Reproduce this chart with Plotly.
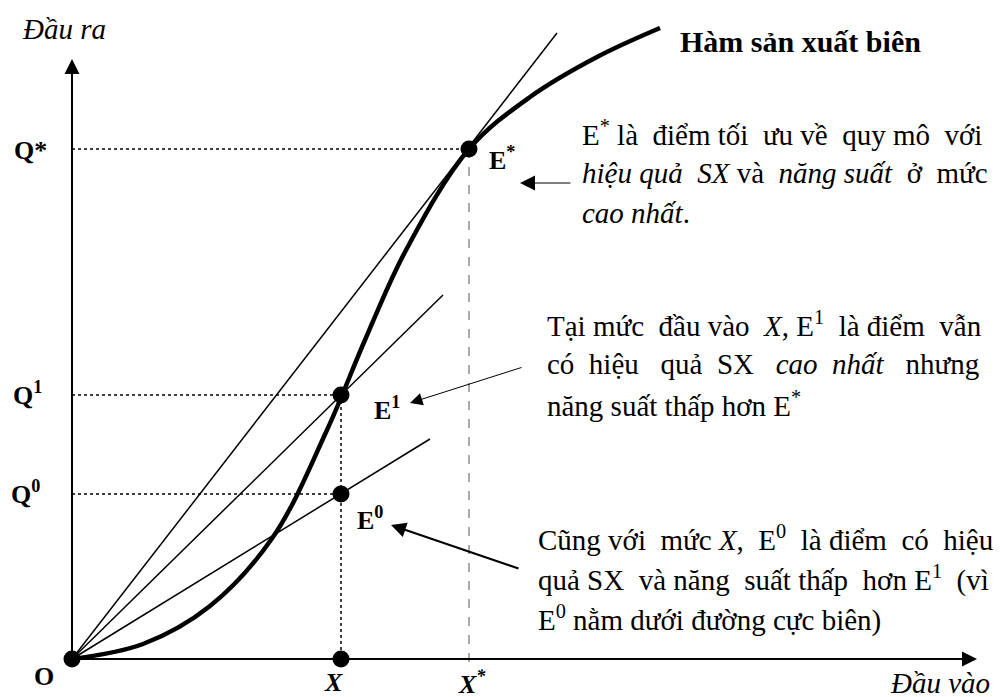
import plotly.graph_objects as go

# Production frontier (S-shaped)
curve_x = [0, 0.71, 1.38, 2.01, 2.55, 2.93, 3.33, 3.97, 4.58, 5.25, 5.88]
curve_y = [0, 0.15, 0.53, 1.22, 2.29, 3.19, 4.07, 5.10, 5.62, 6.02, 6.31]

# Key points E0, E1, E*
point_names = ["E0", "E1", "E*"]
point_x = [2.69, 2.69, 3.97]
point_y = [1.65, 2.64, 5.10]

# Where each ray from the origin stops
ray_end_x = [3.58, 3.71, 4.85]
ray_end_y = [2.20, 3.64, 6.26]

x_axis_end = 9.05
y_axis_end = 6.00

FONT = "Liberation Serif"
SIZE = 29
NBSP = "\u00a0"


def spread(line, extra):
    """Pad the gaps between words with non-breaking spaces (poor man's justify)."""
    words = line.split(" ")
    gaps = len(words) - 1
    out = words[0]
    for i in range(gaps):
        n = (i + 1) * extra // gaps - i * extra // gaps
        out += " " + NBSP * n + words[i + 1]
    return out


def add_text(fig, x, y, text, xanchor="left", size=SIZE):
    fig.add_annotation(x=x, y=y, text=text, showarrow=False, xanchor=xanchor,
                       yanchor="middle", font=dict(family=FONT, size=size, color="black"))


def add_arrow(fig, tail, tip, width=1, size=3):
    fig.add_annotation(x=tip[0], y=tip[1], ax=tail[0], ay=tail[1], axref="x", ayref="y",
                       text="", showarrow=True, arrowhead=2, arrowwidth=width,
                       arrowsize=size, arrowcolor="black", standoff=0,
                       font=dict(family=FONT, size=SIZE))


fig = go.Figure()

# rays from the origin
for ex, ey in zip(ray_end_x, ray_end_y):
    fig.add_trace(go.Scatter(x=[0, ex], y=[0, ey], mode="lines",
                             line=dict(color="black", width=1.5), hoverinfo="skip"))

# dotted guides to the y axis
for px, py in zip(point_x, point_y):
    fig.add_trace(go.Scatter(x=[0, px], y=[py, py], mode="lines",
                             line=dict(color="black", width=1.5, dash="dot"), hoverinfo="skip"))

# dotted drop from E1 to the x axis, dashed drop from E*
fig.add_trace(go.Scatter(x=[point_x[1], point_x[1]], y=[point_y[1], 0], mode="lines",
                         line=dict(color="black", width=1.5, dash="dot"), hoverinfo="skip"))
fig.add_trace(go.Scatter(x=[point_x[2], point_x[2]], y=[point_y[2], -0.08], mode="lines",
                         line=dict(color="#555", width=1, dash="dash"), hoverinfo="skip"))

# the frontier
fig.add_trace(go.Scatter(x=curve_x, y=curve_y, mode="lines", line_shape="spline",
                         line=dict(color="black", width=4.5), hoverinfo="skip"))

# dots
fig.add_trace(go.Scatter(x=[0, point_x[0]] + point_x, y=[0, 0] + point_y, mode="markers",
                         marker=dict(color="black", size=17), hoverinfo="skip"))

# axes with arrow heads
add_arrow(fig, (0, 0), (x_axis_end, 0), width=2, size=1.5)
add_arrow(fig, (0, 0), (0, y_axis_end), width=2, size=1.5)

# pointer arrows
add_arrow(fig, (5.00, 4.76), (4.48, 4.76), width=1, size=3)
add_arrow(fig, (4.51, 2.92), (3.38, 2.56), width=1, size=2.5)
add_arrow(fig, (4.48, 0.90), (3.19, 1.34), width=2, size=1.5)

# axis titles
add_text(fig, -0.52, 6.30, "<i>Đầu ra</i>")
add_text(fig, 9.20, -0.24, "<i>Đầu vào</i>", xanchor="right")
add_text(fig, 6.06, 6.18, "<b>Hàm sản xuất biên</b>", size=30)

# axis labels
add_text(fig, -0.42, 5.09, "<b>Q*</b>", xanchor="center", size=26)
add_text(fig, -0.45, 2.66, "<b>Q<sup>1</sup></b>", xanchor="center", size=26)
add_text(fig, -0.47, 1.67, "<b>Q<sup>0</sup></b>", xanchor="center", size=26)
add_text(fig, -0.28, -0.17, "<b>O</b>", xanchor="center", size=26)
add_text(fig, 2.61, -0.23, "<b><i>X</i></b>", xanchor="center", size=26)
add_text(fig, 4.00, -0.23, "<b><i>X<sup>*</sup></i></b>", xanchor="center", size=26)

# point labels
add_text(fig, 4.15, 5.01, "<b>E<sup>*</sup></b>", size=26)
add_text(fig, 3.00, 2.51, "<b>E<sup>1</sup></b>", size=26)
add_text(fig, 2.83, 1.41, "<b>E<sup>0</sup></b>", size=26)

# explanation blocks: (line, extra spaces for justification)
block_1 = [("E<sup>*</sup> là điểm tối ưu về quy mô với", 4),
           ("<i>hiệu quả SX</i> và <i>năng suất</i> ở mức", 4),
           ("<i>cao nhất</i>.", 0)]
block_2 = [("Tại mức đầu vào <i>X</i>, E<sup>1</sup> là điểm vẫn", 4),
           ("có hiệu quả SX <i>cao nhất</i> nhưng", 9),
           ("năng suất thấp hơn E<sup>*</sup>", 0)]
block_3 = [("Cũng với mức <i>X</i>, E<sup>0</sup> là điểm có hiệu", 5),
           ("quả SX và năng suất thấp hơn E<sup>1</sup> (vì", 4),
           ("E<sup>0</sup> nằm dưới đường cực biên)", 0)]
for lines, x0, y0 in [(block_1, 5.08, 5.26), (block_2, 4.73, 3.35), (block_3, 4.64, 1.21)]:
    for i, (line, extra) in enumerate(lines):
        add_text(fig, x0, y0 - 0.40 * i, spread(line, extra))

fig.update_layout(
    width=1001,
    height=697,
    margin=dict(l=0, r=0, t=0, b=0),
    paper_bgcolor="white",
    plot_bgcolor="white",
    showlegend=False,
    xaxis=dict(range=[-0.64, 9.37], visible=False, fixedrange=True),
    yaxis=dict(range=[-0.46, 6.51], visible=False, fixedrange=True),
)

fig.write_html("out.html")
